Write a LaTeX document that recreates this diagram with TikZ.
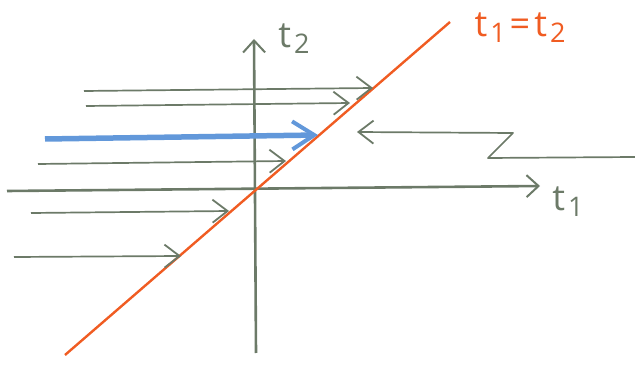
\documentclass[tikz,border=0pt]{standalone}
\usepackage{fontspec}
\setmainfont{Open Sans}
\usetikzlibrary{arrows.meta}
\definecolor{pencil}{RGB}{108,122,104}
\definecolor{orng}{RGB}{240,92,34}
\definecolor{blu}{RGB}{98,152,218}
\newcommand{\sbs}[1]{\kern1pt\raisebox{-0.3ex}{\fontsize{27}{27}\selectfont #1}}
\tikzset{
  axisline/.style={draw=pencil,line width=2.6pt,-{Straight Barb[length=12pt,width=22pt,line width=2pt]}},
  flow/.style={draw=pencil,line width=1.7pt,-{Straight Barb[length=15pt,width=23pt,line width=1.8pt]}},
  bigflow/.style={draw=blu,line width=5.5pt,-{Straight Barb[length=22pt,width=28pt,line width=4pt]}},
  diag/.style={draw=orng,line width=2.4pt},
  lbl/.style={font=\fontsize{36}{36}\selectfont, inner sep=0pt}
}
\begin{document}
\begin{tikzpicture}[x=1pt,y=-1pt]
\useasboundingbox (0,0) rectangle (635,366);
% axes
\coordinate (vb) at (256,353);
\coordinate (vt) at (254,39);
\coordinate (hl) at (7,191);
\coordinate (hr) at (540,186);
\draw[axisline] (vb) -- (vt);
\draw[axisline] (hl) -- (hr);
% diagonal
\coordinate (d0) at (65,355);
\coordinate (d1) at (450,22);
\draw[diag] (d0) -- (d1);
% labels
\node[lbl,text=pencil] (t2) at (294,39) {t\kern2pt\sbs{2}};
\node[lbl,text=pencil] (t1) at (568,202) {t\kern2pt\sbs{1}};
\node[lbl,text=orng] (eq) at (520,28) {t\kern2pt\sbs{1}\kern4pt=\kern4pt t\kern2pt\sbs{2}};
% horizontal arrows
\coordinate (a1s) at (84,91);  \coordinate (a1e) at (373,88);
\coordinate (a2s) at (86,106); \coordinate (a2e) at (350,103);
\coordinate (bs) at (45,139);  \coordinate (be) at (318,135);
\coordinate (a4s) at (38,164); \coordinate (a4e) at (286,161);
\coordinate (a5s) at (31,213); \coordinate (a5e) at (229,211);
\coordinate (a6s) at (14,257); \coordinate (a6e) at (181,256);
\draw[flow] (a1s) -- (a1e);
\draw[flow] (a2s) -- (a2e);
\draw[bigflow] (bs) -- (be);
\draw[flow] (a4s) -- (a4e);
\draw[flow] (a5s) -- (a5e);
\draw[flow] (a6s) -- (a6e);
% zigzag arrow
\coordinate (z0) at (635,157);
\coordinate (z1) at (488,158);
\coordinate (z2) at (513,133);
\coordinate (z3) at (357,132);
\draw[flow,line join=round] (z0) -- (z1) -- (z2) -- (z3);
\end{tikzpicture}
\end{document}
